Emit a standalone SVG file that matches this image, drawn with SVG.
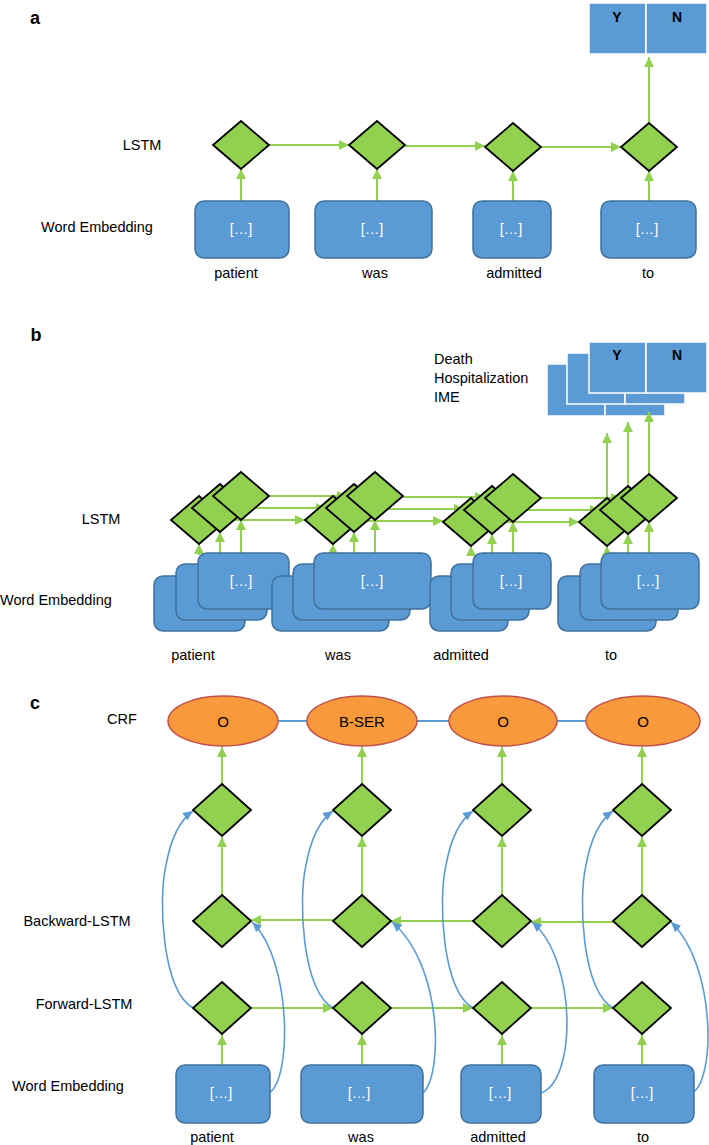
<svg xmlns="http://www.w3.org/2000/svg" width="709" height="1145" viewBox="0 0 709 1145">
<style>
text{font-family:"Liberation Sans",Arial,sans-serif;font-size:14.5px;fill:#000;text-anchor:middle;dominant-baseline:central}
.pl{font-size:18px;font-weight:bold}
.yt{font-size:14px;font-weight:bold}
.wt{fill:#fff;font-size:14.5px}
.lt{text-anchor:start}
.box{fill:#5B9BD5;stroke:#41719C;stroke-width:1.5}
.yn{fill:#5B9BD5;stroke:#fff;stroke-width:1.5}
.dia{fill:#92D050;stroke:#000;stroke-width:1.8;stroke-linejoin:miter}
.ell{fill:#F8993C;stroke:#C0504D;stroke-width:1.5}
.g{stroke:#92D050;stroke-width:2;fill:none;marker-end:url(#ag)}
.b{stroke:#5B9BD5;stroke-width:1.6;fill:none;marker-end:url(#ab)}
.bl{stroke:#5B9BD5;stroke-width:2;fill:none}
</style>
<defs>
<marker id="ag" markerWidth="10" markerHeight="10" refX="10" refY="5" orient="auto" markerUnits="userSpaceOnUse"><path d="M0,0 L10,5 L0,10 z" fill="#92D050"/></marker>
<marker id="ab" markerWidth="11" markerHeight="11" refX="10" refY="5.5" orient="auto" markerUnits="userSpaceOnUse"><path d="M0,1 L10,5.5 L0,10 z" fill="#5B9BD5"/></marker>
</defs>

<!-- Panel a -->
<g id="panel-a-labels">
<text class="pl" x="35" y="18">a</text>
<text x="142" y="145">LSTM</text>
<text x="97" y="227">Word Embedding</text>
<text x="236" y="273">patient</text>
<text x="375" y="273">was</text>
<text x="514" y="273">admitted</text>
<text x="648" y="273">to</text>
</g>
<g id="a-connectors">
<line class="g" x1="269" y1="145" x2="349" y2="145"/>
<line class="g" x1="405" y1="146" x2="485" y2="146"/>
<line class="g" x1="541" y1="147" x2="621" y2="147"/>
<line class="g" x1="241" y1="201" x2="241" y2="169"/>
<line class="g" x1="377" y1="201" x2="377" y2="169"/>
<line class="g" x1="513" y1="201" x2="513" y2="171"/>
<line class="g" x1="649" y1="201" x2="649" y2="171"/>
<line class="g" x1="649" y1="123" x2="649" y2="57"/>
</g>
<g id="a-yn">
<rect class="yn" x="589" y="3" width="57" height="51"/>
<rect class="yn" x="646" y="3" width="61" height="51"/>
<text class="yt" x="617" y="17">Y</text>
<text class="yt" x="677" y="17">N</text>
</g>
<g id="a-lstm1"><polygon class="dia" points="241,121 269,145 241,169 213,145"/></g>
<g id="a-lstm2"><polygon class="dia" points="377,121 405,145 377,169 349,145"/></g>
<g id="a-lstm3"><polygon class="dia" points="513,123 541,147 513,171 485,147"/></g>
<g id="a-lstm4"><polygon class="dia" points="649,123 677,147 649,171 621,147"/></g>
<g id="a-emb1"><rect class="box" x="195" y="201" width="94" height="57" rx="9"/><text class="wt" x="241" y="229">[…]</text></g>
<g id="a-emb2"><rect class="box" x="315" y="201" width="117" height="57" rx="9"/><text class="wt" x="372" y="229">[…]</text></g>
<g id="a-emb3"><rect class="box" x="473" y="201" width="78" height="57" rx="9"/><text class="wt" x="511" y="229">[…]</text></g>
<g id="a-emb4"><rect class="box" x="601" y="201" width="95" height="57" rx="9"/><text class="wt" x="647" y="229">[…]</text></g>

<!-- Panel b -->
<g id="panel-b-labels">
<text class="pl" x="36" y="335">b</text>
<text class="lt" x="434" y="359">Death</text>
<text class="lt" x="434" y="378">Hospitalization</text>
<text class="lt" x="434" y="397">IME</text>
<text x="101" y="519">LSTM</text>
<text class="lt" x="0" y="600">Word Embedding</text>
<text x="193" y="655">patient</text>
<text x="338" y="655">was</text>
<text x="461" y="655">admitted</text>
<text x="611" y="655">to</text>
</g>
<g id="b-yn">
<rect class="yn" x="547" y="364" width="58" height="52"/>
<rect class="yn" x="605" y="364" width="60" height="52"/>
<rect class="yn" x="567" y="353" width="58" height="51"/>
<rect class="yn" x="625" y="353" width="60" height="51"/>
<rect class="yn" x="589" y="342" width="57" height="51"/>
<rect class="yn" x="646" y="342" width="61" height="51"/>
<text class="yt" x="617" y="355">Y</text>
<text class="yt" x="677" y="355">N</text>
</g>
<g id="b-connectors">
<line class="g" x1="269" y1="496" x2="347" y2="496"/>
<line class="g" x1="403" y1="497" x2="485" y2="497"/>
<line class="g" x1="541" y1="498" x2="621" y2="498"/>
<line class="g" x1="248" y1="508" x2="326" y2="508"/>
<line class="g" x1="382" y1="509" x2="464" y2="509"/>
<line class="g" x1="520" y1="510" x2="600" y2="510"/>
<line class="g" x1="227" y1="520" x2="305" y2="520"/>
<line class="g" x1="361" y1="521" x2="443" y2="521"/>
<line class="g" x1="499" y1="522" x2="579" y2="522"/>
<line class="g" x1="607" y1="498" x2="607" y2="433"/>
<line class="g" x1="628" y1="486" x2="628" y2="422"/>
<line class="g" x1="649" y1="474" x2="649" y2="412"/>
<line class="g" x1="199" y1="555" x2="199" y2="544"/>
<line class="g" x1="220" y1="555" x2="220" y2="532"/>
<line class="g" x1="241" y1="555" x2="241" y2="520"/>
<line class="g" x1="333" y1="555" x2="333" y2="544"/>
<line class="g" x1="354" y1="555" x2="354" y2="532"/>
<line class="g" x1="375" y1="555" x2="375" y2="520"/>
<line class="g" x1="471" y1="555" x2="471" y2="546"/>
<line class="g" x1="492" y1="555" x2="492" y2="534"/>
<line class="g" x1="513" y1="555" x2="513" y2="522"/>
<line class="g" x1="607" y1="555" x2="607" y2="546"/>
<line class="g" x1="628" y1="555" x2="628" y2="534"/>
<line class="g" x1="649" y1="555" x2="649" y2="522"/>
</g>
<g id="b-lstm1">
<polygon class="dia" points="199,496 227,520 199,544 171,520"/>
<polygon class="dia" points="220,484 248,508 220,532 192,508"/>
<polygon class="dia" points="241,472 269,496 241,520 213,496"/>
</g>
<g id="b-lstm2">
<polygon class="dia" points="333,496 361,520 333,544 305,520"/>
<polygon class="dia" points="354,484 382,508 354,532 326,508"/>
<polygon class="dia" points="375,472 403,496 375,520 347,496"/>
</g>
<g id="b-lstm3">
<polygon class="dia" points="471,498 499,522 471,546 443,522"/>
<polygon class="dia" points="492,486 520,510 492,534 464,510"/>
<polygon class="dia" points="513,474 541,498 513,522 485,498"/>
</g>
<g id="b-lstm4">
<polygon class="dia" points="607,498 635,522 607,546 579,522"/>
<polygon class="dia" points="628,486 656,510 628,534 600,510"/>
<polygon class="dia" points="649,474 677,498 649,522 621,498"/>
</g>
<g id="b-emb1">
<rect class="box" x="154" y="576" width="91" height="55" rx="9"/>
<rect class="box" x="176" y="564" width="91" height="56" rx="9"/>
<rect class="box" x="198" y="553" width="91" height="56" rx="9"/>
<text class="wt" x="241" y="581">[…]</text>
</g>
<g id="b-emb2">
<rect class="box" x="272" y="576" width="117" height="55" rx="9"/>
<rect class="box" x="293" y="564" width="117" height="56" rx="9"/>
<rect class="box" x="314" y="553" width="117" height="56" rx="9"/>
<text class="wt" x="372" y="581">[…]</text>
</g>
<g id="b-emb3">
<rect class="box" x="430" y="576" width="78" height="55" rx="9"/>
<rect class="box" x="451" y="564" width="78" height="56" rx="9"/>
<rect class="box" x="473" y="553" width="78" height="56" rx="9"/>
<text class="wt" x="511" y="581">[…]</text>
</g>
<g id="b-emb4">
<rect class="box" x="558" y="576" width="98" height="55" rx="9"/>
<rect class="box" x="580" y="564" width="98" height="56" rx="9"/>
<rect class="box" x="601" y="553" width="98" height="56" rx="9"/>
<text class="wt" x="648" y="581">[…]</text>
</g>

<!-- Panel c -->
<g id="panel-c-labels">
<text class="pl" x="35" y="703">c</text>
<text x="122" y="719">CRF</text>
<text x="77" y="921">Backward-LSTM</text>
<text x="84" y="1004">Forward-LSTM</text>
<text x="68" y="1086">Word Embedding</text>
<text x="212" y="1137">patient</text>
<text x="361" y="1137">was</text>
<text x="498" y="1137">admitted</text>
<text x="643" y="1137">to</text>
</g>
<g id="c-connectors">
<line class="bl" x1="278" y1="721" x2="308" y2="721"/>
<line class="bl" x1="417" y1="721" x2="450" y2="721"/>
<line class="bl" x1="557" y1="721" x2="586" y2="721"/>
<line class="g" x1="222" y1="784" x2="222" y2="747"/>
<line class="g" x1="362" y1="784" x2="362" y2="747"/>
<line class="g" x1="502" y1="784" x2="502" y2="747"/>
<line class="g" x1="642" y1="784" x2="642" y2="747"/>
<line class="g" x1="222" y1="895" x2="222" y2="837"/>
<line class="g" x1="362" y1="895" x2="362" y2="837"/>
<line class="g" x1="502" y1="895" x2="502" y2="837"/>
<line class="g" x1="642" y1="895" x2="642" y2="837"/>
<line class="g" x1="222" y1="1065" x2="222" y2="1035"/>
<line class="g" x1="362" y1="1065" x2="362" y2="1035"/>
<line class="g" x1="502" y1="1065" x2="502" y2="1035"/>
<line class="g" x1="642" y1="1065" x2="642" y2="1035"/>
<line class="g" x1="251" y1="1008" x2="333" y2="1008"/>
<line class="g" x1="391" y1="1008" x2="473" y2="1008"/>
<line class="g" x1="531" y1="1008" x2="613" y2="1008"/>
<line class="g" x1="333" y1="920" x2="251" y2="920"/>
<line class="g" x1="473" y1="921" x2="391" y2="921"/>
<line class="g" x1="613" y1="922" x2="531" y2="922"/>
<path class="b" d="M193,1008 C162,990 158,900 166,865 C171,838 180,820 193,811"/>
<path class="b" d="M333,1008 C302,990 298,900 306,865 C311,838 320,820 333,811"/>
<path class="b" d="M473,1008 C442,990 438,900 446,865 C451,838 460,820 473,811"/>
<path class="b" d="M613,1008 C582,990 578,900 586,865 C591,838 600,820 613,811"/>
<path class="b" d="M269,1093 C292,1080 292,960 252,922"/>
<path class="b" d="M423,1093 C443,1075 443,965 392,922"/>
<path class="b" d="M541,1093 C577,1080 577,960 532,922"/>
<path class="b" d="M692,1093 C716,1080 716,965 671,922"/>
</g>
<g id="c-crf1"><ellipse class="ell" cx="223" cy="721" rx="55" ry="25"/><text x="223" y="721" style="font-size:15px">O</text></g>
<g id="c-crf2"><ellipse class="ell" cx="362" cy="721" rx="55" ry="25"/><text x="362" y="721" style="font-size:15px">B-SER</text></g>
<g id="c-crf3"><ellipse class="ell" cx="503" cy="721" rx="54" ry="25"/><text x="503" y="721" style="font-size:15px">O</text></g>
<g id="c-crf4"><ellipse class="ell" cx="643" cy="721" rx="57" ry="25"/><text x="643" y="721" style="font-size:15px">O</text></g>
<g id="c-top1"><polygon class="dia" points="222,784 251,810 222,836 193,810"/></g>
<g id="c-top2"><polygon class="dia" points="362,784 391,810 362,836 333,810"/></g>
<g id="c-top3"><polygon class="dia" points="502,784 531,810 502,836 473,810"/></g>
<g id="c-top4"><polygon class="dia" points="642,784 671,810 642,836 613,810"/></g>
<g id="c-bwd1"><polygon class="dia" points="222,895 251,921 222,947 193,921"/></g>
<g id="c-bwd2"><polygon class="dia" points="362,895 391,921 362,947 333,921"/></g>
<g id="c-bwd3"><polygon class="dia" points="502,895 531,921 502,947 473,921"/></g>
<g id="c-bwd4"><polygon class="dia" points="642,895 671,921 642,947 613,921"/></g>
<g id="c-fwd1"><polygon class="dia" points="222,982 251,1008 222,1034 193,1008"/></g>
<g id="c-fwd2"><polygon class="dia" points="362,982 391,1008 362,1034 333,1008"/></g>
<g id="c-fwd3"><polygon class="dia" points="502,982 531,1008 502,1034 473,1008"/></g>
<g id="c-fwd4"><polygon class="dia" points="642,982 671,1008 642,1034 613,1008"/></g>
<g id="c-emb1"><rect class="box" x="176" y="1065" width="94" height="58" rx="9"/><text class="wt" x="221" y="1093">[…]</text></g>
<g id="c-emb2"><rect class="box" x="301" y="1065" width="122" height="58" rx="9"/><text class="wt" x="359" y="1093">[…]</text></g>
<g id="c-emb3"><rect class="box" x="461" y="1065" width="80" height="58" rx="9"/><text class="wt" x="500" y="1093">[…]</text></g>
<g id="c-emb4"><rect class="box" x="594" y="1065" width="100" height="58" rx="9"/><text class="wt" x="642" y="1093">[…]</text></g>
</svg>
